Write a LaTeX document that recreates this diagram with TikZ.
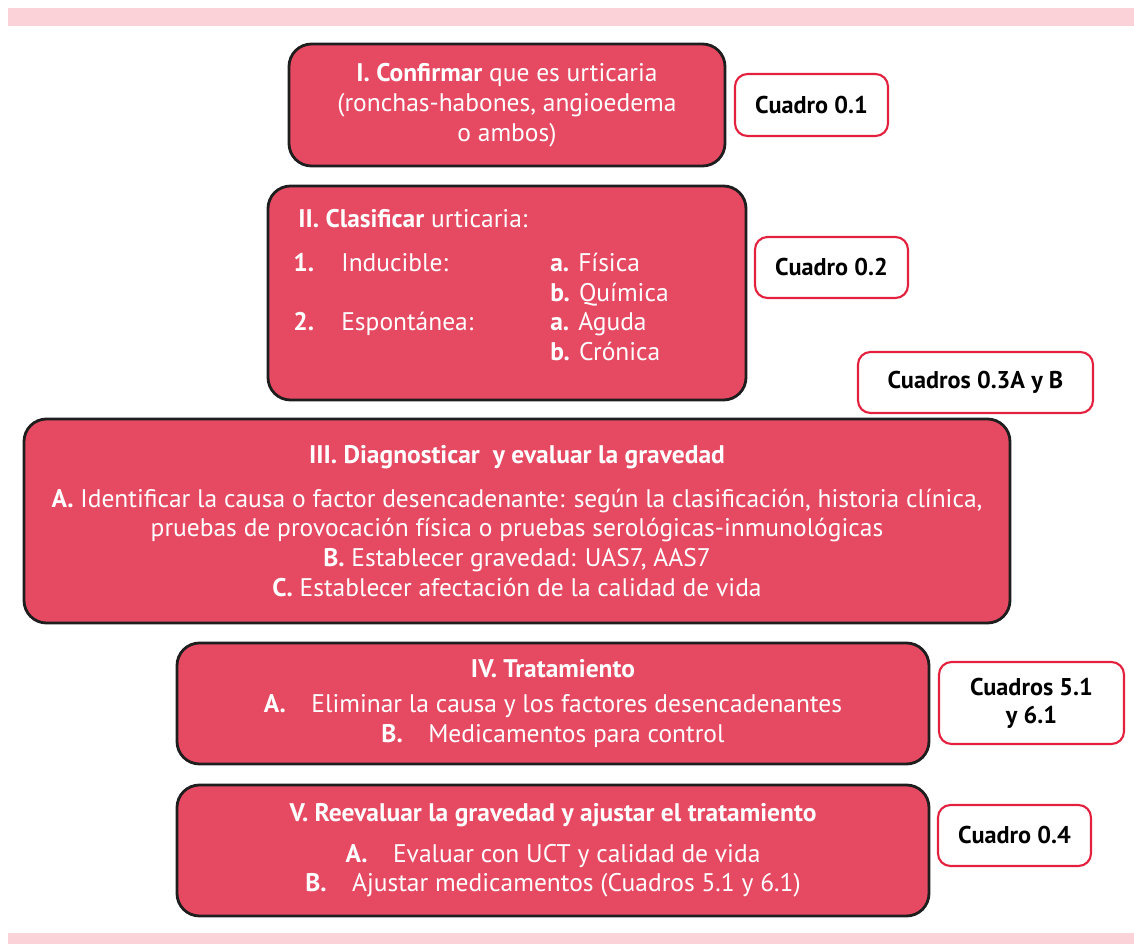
\documentclass[tikz,border=0pt]{standalone}
\usepackage{fontspec}
\setmainfont{PT Sans}
\usepackage{array}
\definecolor{rosa}{HTML}{E64A62}
\definecolor{rojo}{HTML}{E3213E}
\definecolor{barra}{HTML}{FAD2D8}
\definecolor{borde}{HTML}{1E1E1E}
\begin{document}
\begin{tikzpicture}[x=0.02cm,y=-0.02cm,
    paso/.style={rectangle, draw=borde, line width=1.6pt, rounded corners=0.45cm,
        fill=rosa, text=white, align=center, inner sep=0pt,
        font=\fontsize{14.5}{17}\selectfont},
    cuadro/.style={rectangle, draw=rojo, line width=1.2pt, rounded corners=0.25cm,
        fill=white, text=black, align=center, inner sep=0pt,
        font=\fontsize{13.8}{16}\selectfont\bfseries}]
        \useasboundingbox (0,0) rectangle (1134,944);
        \fill[barra] (8,8) rectangle (1134,26);
        \fill[barra] (8,933) rectangle (1134,944);

        \node[paso,
        minimum width = 436*0.02cm,
        minimum height = 122*0.02cm] (I) at (507,105)
        {\textbf{I. Confirmar} que es urticaria\\(ronchas-habones, angioedema\\o ambos)};
        \node[paso,
        minimum width = 478*0.02cm,
        minimum height = 214*0.02cm] (II) at (507,293) {};
        \node[anchor=west, text=white, inner sep=0pt,
        font=\fontsize{14.5}{17}\selectfont] (IItexto) at (293,288)
        {\begin{tabular}{@{}p{0.96cm}@{}p{4.18cm}@{}l@{}}
        \multicolumn{3}{@{\hspace{0.1cm}}l}{\textbf{II. Clasificar} urticaria:}\\[8pt]
        \textbf{1.} & Inducible: & \textbf{a.} Física\\
         & & \textbf{b.} Química\\
        \textbf{2.} & Espontánea: & \textbf{a.} Aguda\\
         & & \textbf{b.} Crónica
        \end{tabular}};
        \node[paso,
        minimum width = 986*0.02cm,
        minimum height = 204*0.02cm] (III) at (517,521)
        {\textbf{III. Diagnosticar\ \ y evaluar la gravedad}\\[8pt]
        \textbf{A.} Identificar la causa o factor desencadenante: según la clasificación, historia clínica,\\
        pruebas de provocación física o pruebas serológicas-inmunológicas\\
        \textbf{B.} Establecer gravedad: UAS7, AAS7\\
        \textbf{C.} Establecer afectación de la calidad de vida};
        \node[paso,
        minimum width = 752*0.02cm,
        minimum height = 121*0.02cm] (IV) at (553,703.5)
        {\textbf{IV. Tratamiento}\\[3pt]
        \textbf{A.}\quad Eliminar la causa y los factores desencadenantes\\
        \textbf{B.}\quad Medicamentos para control};
        \node[paso,
        minimum width = 752*0.02cm,
        minimum height = 131*0.02cm] (V) at (553,850.5)
        {\textbf{V. Reevaluar la gravedad y ajustar el tratamiento}\\[6pt]
        \textbf{A.}\quad Evaluar con UCT y calidad de vida\\
        \textbf{B.}\quad Ajustar medicamentos (Cuadros 5.1 y 6.1)};

        \node[cuadro,
        minimum width = 153*0.02cm,
        minimum height = 62*0.02cm] (C1) at (811.5,105) {Cuadro 0.1};
        \node[cuadro,
        minimum width = 153*0.02cm,
        minimum height = 61*0.02cm] (C2) at (831.5,267.5) {Cuadro 0.2};
        \node[cuadro,
        minimum width = 235*0.02cm,
        minimum height = 61*0.02cm] (C3) at (975.5,382.5) {Cuadros 0.3A y B};
        \node[cuadro,
        minimum width = 185*0.02cm,
        minimum height = 82*0.02cm] (C4) at (1031.5,703) {Cuadros 5.1\\y 6.1};
        \node[cuadro,
        minimum width = 153*0.02cm,
        minimum height = 61*0.02cm] (C5) at (1014.5,835.5) {Cuadro 0.4};
    \end{tikzpicture}
\end{document}
